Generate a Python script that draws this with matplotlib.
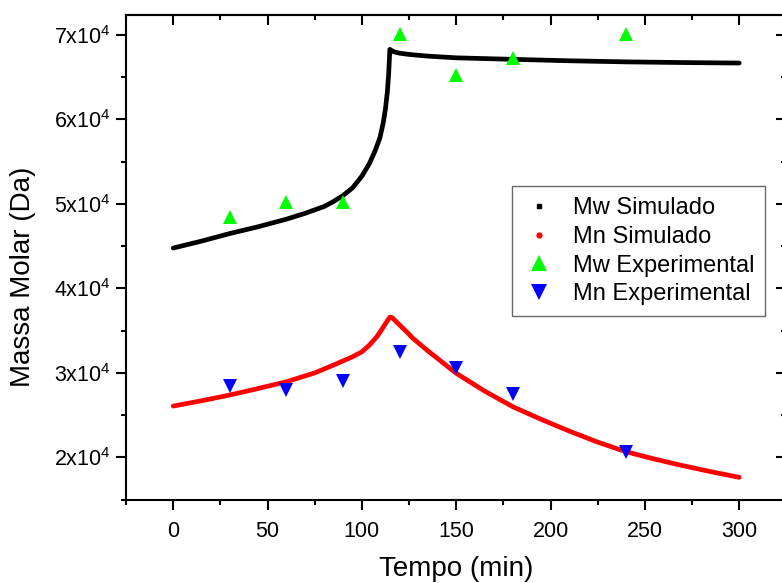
import matplotlib
matplotlib.use("Agg")
import matplotlib.pyplot as plt
from matplotlib.lines import Line2D
from matplotlib.ticker import MultipleLocator, FuncFormatter

plt.rcParams['font.family'] = ['Liberation Sans', 'DejaVu Sans']
plt.rcParams['mathtext.fontset'] = 'custom'
plt.rcParams['mathtext.rm'] = 'Liberation Sans'
plt.rcParams['mathtext.it'] = 'Liberation Sans'

# Simulated curves
t_mw_sim = [0, 15, 30, 45, 60, 70, 80, 85, 90, 95, 100, 104, 107, 109.5, 111.3, 112.5, 113.5, 114.2, 114.8,
            117, 120, 125, 135, 150, 180, 210, 240, 270, 300]
mw_sim = [44780, 45600, 46500, 47300, 48200, 48900, 49700, 50300, 51000, 51900, 53300, 54800, 56300, 57800,
          59600, 61300, 63300, 65500, 68300, 68000, 67850, 67700, 67500, 67300, 67120, 66950, 66820, 66740, 66680]

t_mn_sim = [0, 15, 30, 45, 60, 75, 85, 95, 100, 104, 108, 111, 113, 114.8, 116, 118, 120, 124, 127, 135,
            150, 165, 180, 195, 210, 225, 240, 255, 270, 285, 300]
mn_sim = [26070, 26700, 27380, 28150, 28950, 30000, 30930, 31900, 32500, 33300, 34300, 35300, 36000, 36600,
          36550, 36100, 35660, 34800, 34090, 32600, 29950, 27850, 25990, 24500, 23100, 21800, 20665, 19800,
          19020, 18300, 17630]

# Experimental points
t_exp = [30, 60, 90, 120, 150, 180, 240]
mw_exp = [48490, 50260, 50260, 70120, 65260, 67240, 70120]
mn_exp = [28440, 27970, 29030, 32500, 30540, 27490, 20630]

legend_labels = ["Mw Simulado", "Mn Simulado", "Mw Experimental", "Mn Experimental"]

W, H = 782, 583
fig = plt.figure(figsize=(W / 100, H / 100), dpi=100)
left_px, right_px, top_px, bottom_px = 126.1, 786.4, 15, 500
ax = fig.add_axes([left_px / W, 1 - bottom_px / H, (right_px - left_px) / W, (bottom_px - top_px) / H])

ax.plot(t_mw_sim, mw_sim, color='black', lw=3.4, solid_capstyle='round', solid_joinstyle='round', zorder=2)
ax.plot(t_mn_sim, mn_sim, color='red', lw=3.4, solid_capstyle='round', solid_joinstyle='round', zorder=2)
ax.plot(t_exp, mw_exp, linestyle='none', marker='^', color='#00ff00', ms=9.5, mew=0, zorder=3)
ax.plot(t_exp, mn_exp, linestyle='none', marker='v', color='blue', ms=9.5, mew=0, zorder=3)

ax.set_xlim(-25, 325)
ax.set_ylim(14950, 72370)

ax.xaxis.set_major_locator(MultipleLocator(50))
ax.xaxis.set_minor_locator(MultipleLocator(25))
ax.yaxis.set_major_locator(MultipleLocator(10000))
ax.yaxis.set_minor_locator(MultipleLocator(5000))
ax.yaxis.set_major_formatter(FuncFormatter(lambda v, p: r"%dx10$^{4}$" % round(v / 10000)))

for s in ax.spines.values():
    s.set_linewidth(1.5)

ax.tick_params(axis='both', which='both', width=1.5, labelsize=15.5, colors='black')
ax.tick_params(axis='both', which='major', length=7.2)
ax.tick_params(axis='both', which='minor', length=3.6)
ax.tick_params(axis='x', which='both', direction='out', top=False, pad=8)
ax.tick_params(axis='y', which='both', direction='out', right=False, pad=4)

# top and right inward ticks via secondary copies
axt = ax.secondary_xaxis('top')
axt.xaxis.set_major_locator(MultipleLocator(50))
axt.xaxis.set_minor_locator(MultipleLocator(25))
axt.tick_params(which='both', direction='in', width=1.5, labeltop=False)
axt.tick_params(which='major', length=7.2)
axt.tick_params(which='minor', length=3.6)
axt.spines['top'].set_linewidth(1.5)
axr = ax.secondary_yaxis('right')
axr.yaxis.set_major_locator(MultipleLocator(10000))
axr.yaxis.set_minor_locator(MultipleLocator(5000))
axr.tick_params(which='both', direction='in', width=1.5, labelright=False)
axr.tick_params(which='major', length=7.2)
axr.tick_params(which='minor', length=3.6)

ax.set_xlabel("Tempo (min)", fontsize=20, labelpad=10)
ax.set_ylabel("Massa Molar (Da)", fontsize=20)
ax.yaxis.set_label_coords((36 - left_px) / (right_px - left_px), (bottom_px - 276.5) / (bottom_px - top_px))

handles = [
    Line2D([], [], linestyle='none', marker='s', color='black', ms=3.5),
    Line2D([], [], linestyle='none', marker='o', color='red', ms=3.5),
    Line2D([], [], linestyle='none', marker='^', color='#00ff00', ms=11, mew=0),
    Line2D([], [], linestyle='none', marker='v', color='blue', ms=11, mew=0),
]
leg = fig.legend(handles, legend_labels, loc='upper left',
                 bbox_to_anchor=(511.7 / W, 1 - 186 / H), bbox_transform=fig.transFigure,
                 borderaxespad=0, fontsize=17, frameon=True, fancybox=False,
                 edgecolor='#444444', handlelength=1.36, handletextpad=0.75,
                 labelspacing=0.285, borderpad=0.47)
leg.get_frame().set_linewidth(1.0)

fig.savefig("out.png", dpi=100)
